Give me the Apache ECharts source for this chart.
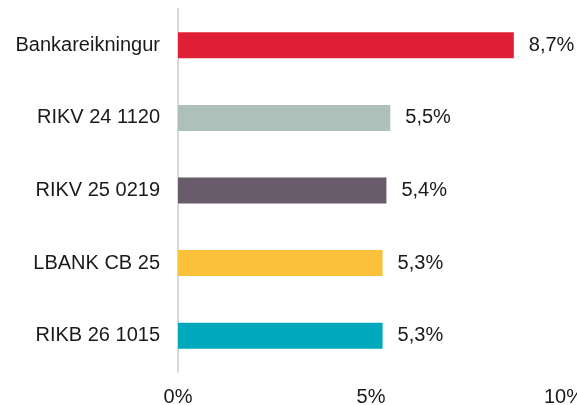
<!DOCTYPE html>
<html>
<head>
<meta charset="utf-8">
<style>
  html, body { margin: 0; padding: 0; background: #ffffff; }
  #chart { width: 577px; height: 405px; }
</style>
<script src="https://cdn.jsdelivr.net/npm/echarts@6/dist/echarts.min.js"></script>
</head>
<body>
<div id="chart"></div>
<script>
// Securities and their yields (%)
const categories = ['Bankareikningur', 'RIKV 24 1120', 'RIKV 25 0219', 'LBANK CB 25', 'RIKB 26 1015'];
const values = [8.7, 5.5, 5.4, 5.3, 5.3];
const barColors = ['#DE1F36', '#AFBFB9', '#6A5B6C', '#FBC13A', '#00A8BC'];
const xTicks = [0, 5, 10];

const fmt = v => String(v).replace('.', ',') + '%';
const FONT = 'Liberation Sans, Arial, sans-serif';

const chart = echarts.init(document.getElementById('chart'));
chart.setOption({
  animation: false,
  grid: { left: 178, right: 13, top: 9, bottom: 33, containLabel: false, outerBoundsMode: 'none' },
  xAxis: {
    type: 'value',
    min: xTicks[0],
    max: xTicks[xTicks.length - 1],
    interval: 5,
    axisLine: { show: false },
    axisTick: { show: false },
    splitLine: { show: false },
    axisLabel: {
      margin: 15,
      fontFamily: FONT,
      fontSize: 20,
      color: '#1a1a1a',
      hideOverlap: false,
      formatter: v => v + '%'
    }
  },
  yAxis: {
    type: 'category',
    data: categories,
    inverse: true,
    axisLine: { show: true, lineStyle: { color: '#d9d9d9', width: 2 } },
    axisTick: { show: false },
    axisLabel: {
      margin: 18,
      fontFamily: FONT,
      fontSize: 20,
      color: '#1a1a1a'
    }
  },
  series: [{
    type: 'bar',
    data: values.map((v, i) => ({ value: v, itemStyle: { color: barColors[i] } })),
    barWidth: 26,
    label: {
      show: true,
      position: 'right',
      distance: 15,
      fontFamily: FONT,
      fontSize: 20,
      color: '#1a1a1a',
      formatter: p => fmt(p.value)
    }
  }]
});
</script>
</body>
</html>
